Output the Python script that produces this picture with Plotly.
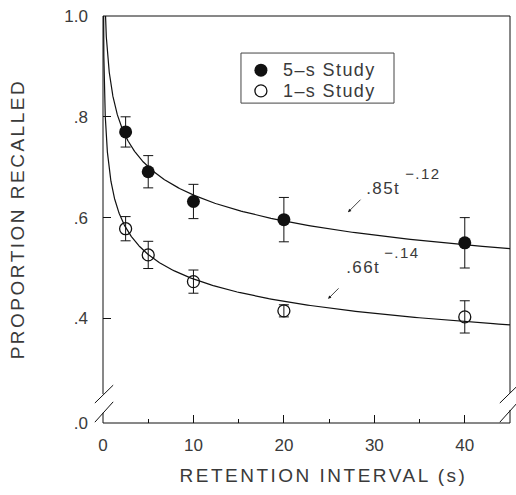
import numpy as np
import plotly.graph_objects as go

# Retention interval (s) at which recall was tested
retention_s = [2.5, 5, 10, 20, 40]

# Proportion recalled and error-bar half widths for each study condition
study5_recall = [0.770, 0.691, 0.632, 0.596, 0.550]
study5_err = [0.030, 0.032, 0.034, 0.044, 0.050]
study1_recall = [0.578, 0.526, 0.473, 0.415, 0.403]
study1_err = [0.024, 0.027, 0.023, 0.012, 0.032]

# Power-function fits  p = a * t^(-b)
fit_a = [0.85, 0.66]
fit_b = [0.12, 0.14]

series_names = ["5–s Study", "1–s Study"]

# Y axis is broken: its bottom edge stands for zero
y_floor = 0.1925
y_tick_vals = [y_floor, 0.4, 0.6, 0.8, 1.0]
y_tick_text = [".0", ".4", ".6", ".8", "1.0"]
x_tick_vals = [0, 10, 20, 30, 40]
x_tick_text = ["0", "10", "20", "30", "40"]

INK = "#111"
TXT = "#3a3a3a"
FONT = "Liberation Sans, Arial, sans-serif"

filled = dict(symbol="circle", size=13, color=INK)
hollow = dict(symbol="circle-open", size=12, color=INK, line=dict(width=1.3))

fig = go.Figure()

# fitted curves
t = np.geomspace(0.01, 45, 600)
for a, b in zip(fit_a, fit_b):
    fig.add_trace(go.Scatter(
        x=t, y=a * t ** (-b), mode="lines",
        line=dict(color=INK, width=1.2), showlegend=False, hoverinfo="skip",
    ))

# observed means with error bars
fig.add_trace(go.Scatter(
    x=retention_s, y=study5_recall, mode="markers", name=series_names[0],
    marker=filled, showlegend=False,
    error_y=dict(type="data", array=study5_err, color=INK, thickness=1, width=5),
))
fig.add_trace(go.Scatter(
    x=retention_s, y=study1_recall, mode="markers", name=series_names[1],
    marker=hollow, showlegend=False,
    error_y=dict(type="data", array=study1_err, color=INK, thickness=1, width=5),
))

# legend keys live on an invisible unit overlay axis
key_x = 0.388
key_y = [0.867, 0.816]
for y, mk, nm in zip(key_y, (filled, hollow), series_names):
    fig.add_trace(go.Scatter(
        x=[key_x], y=[y], mode="markers", marker=mk, name=nm,
        xaxis="x2", yaxis="y2", showlegend=False, hoverinfo="skip",
    ))

# frame drawn by hand so the break can interrupt both side axes
line = dict(color=INK, width=1)
frame = [
    (0, 0, 1, 0),            # bottom
    (0, 1, 1, 1),            # top
    (0, 1, 0, 0.071),        # left, above the break
    (0, 0.025, 0, 0),        # left, below the break
    (1, 1, 1, 0.074),        # right, above the break
    (1, 0.032, 1, 0),        # right, below the break
]
shapes = [dict(type="line", xref="paper", yref="paper", x0=a, y0=b, x1=c, y1=d, line=line)
          for a, b, c, d in frame]
# double-slash break marks
for dx in (-0.020, 0.975):
    for y0, y1 in ((0.049, 0.093), (0.002, 0.052)):
        shapes.append(dict(type="line", xref="paper", yref="paper",
                           x0=dx, y0=y0, x1=dx + 0.045, y1=y1, line=line))
# legend box
shapes.append(dict(type="rect", xref="paper", yref="paper",
                   x0=0.339, y0=0.786, x1=0.715, y1=0.909,
                   line=dict(color="#444", width=1), layer="below"))


def label(text, x, y, size, **kw):
    d = dict(text=text, xref="paper", yref="paper", x=x, y=y,
             xanchor="center", yanchor="middle", showarrow=False,
             font=dict(family=FONT, size=size, color=TXT))
    d.update(kw)
    return d


annotations = [
    # axis titles
    label("RETENTION INTERVAL (s)", 0.542, -0.130, 19),
    label("PROPORTION RECALLED", -0.209, 0.502, 19, textangle=-90),
    # legend entries
    label(series_names[0], 0.437, key_y[0], 18, xanchor="left", align="left"),
    label(series_names[1], 0.437, key_y[1], 18, xanchor="left", align="left"),
    # fit labels
    label(".85t", 0.689, 0.577, 17),
    label("−.12", 0.786, 0.614, 15),
    label(".66t", 0.641, 0.381, 17),
    label("−.14", 0.735, 0.418, 15),
    # pointer arrows
    dict(text="", xref="paper", yref="paper", x=0.602, y=0.518, ax=14, ay=-14,
         showarrow=True, arrowhead=2, arrowsize=0.8, arrowwidth=0.8, arrowcolor=INK),
    dict(text="", xref="paper", yref="paper", x=0.553, y=0.305, ax=12, ay=-12,
         showarrow=True, arrowhead=2, arrowsize=0.8, arrowwidth=0.8, arrowcolor=INK),
]

fig.update_layout(
    width=516, height=495,
    margin=dict(l=103, r=6, t=16, b=72, pad=0),
    paper_bgcolor="white", plot_bgcolor="white",
    font=dict(family=FONT, color=TXT),
    shapes=shapes, annotations=annotations, showlegend=False,
    xaxis=dict(
        range=[0, 45], showgrid=False, zeroline=False, showline=False,
        tickmode="array", tickvals=x_tick_vals, ticktext=x_tick_text,
        ticks="inside", ticklen=8, tickwidth=1, tickcolor=INK,
        minor=dict(dtick=5, tick0=0, ticks="inside", ticklen=4, tickwidth=1, tickcolor=INK),
        tickfont=dict(family=FONT, size=17, color=TXT), ticklabelstandoff=10,
    ),
    yaxis=dict(
        range=[y_floor, 1.0], showgrid=False, zeroline=False, showline=False,
        tickmode="array", tickvals=y_tick_vals, ticktext=y_tick_text,
        ticks="inside", ticklen=8, tickwidth=1, tickcolor=INK,
        tickfont=dict(family=FONT, size=17, color=TXT), ticklabelstandoff=14,
    ),
    xaxis2=dict(overlaying="x", range=[0, 1], visible=False),
    yaxis2=dict(overlaying="y", range=[0, 1], visible=False),
)

# widen the letter spacing of the typeset labels
post = """
var gd = document.getElementById('{plot_id}');
function track(){
  gd.querySelectorAll('.annotation-text').forEach(function(e){
    var n = (e.textContent || '').length;
    e.style.letterSpacing = n > 12 ? '2.5px' : '1.4px';
  });
}
track();
if (gd.on) { gd.on('plotly_afterplot', track); }
"""

fig.write_html("out.html", post_script=post)
